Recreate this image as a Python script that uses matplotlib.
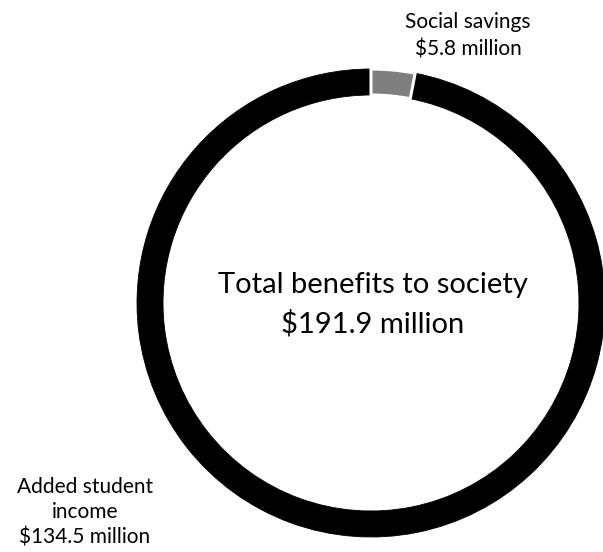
import matplotlib
matplotlib.use("Agg")
import matplotlib.pyplot as plt

# Data
total = 191.9
categories = ["Social savings", "Added student income"]
values = [5.8, 134.5]
other = total - sum(values)  # remaining benefits (drawn black, unlabeled)
label_lines_social = ["Social savings", "$5.8 million"]
label_lines_student = ["Added student", "income", "$134.5 million"]
center_lines = ["Total benefits to society", "$191.9 million"]

plt.rcParams['font.family'] = ['Lato', 'DejaVu Sans']

H = 552
fig = plt.figure(figsize=(6.03, 5.52), dpi=100)
ax = fig.add_axes([0, 0, 1, 1])

R = 234
cx, cy = 371, H - 303
wedges, _ = ax.pie(values + [other], colors=['#7f7f7f', 'black', 'black'],
                   startangle=90, counterclock=False, radius=R, center=(cx, cy),
                   wedgeprops=dict(width=26, linewidth=0.6, edgecolor='black'),
                   frame=True)
ax.set_xlim(0, 603)
ax.set_ylim(0, H)
ax.set_aspect('equal')
ax.axis('off')
wedges[0].set_edgecolor('white')
wedges[0].set_linewidth(2.2)
wedges[0].set_zorder(5)

for i, line in enumerate(center_lines):
    ax.text(373, H - (293 + 40 * i), line, ha='center', va='baseline',
            fontsize=21, color='black')
for i, line in enumerate(label_lines_social):
    ax.text(468, H - (28 + 27 * i), line, ha='center', va='baseline',
            fontsize=15, color='black')
for i, line in enumerate(label_lines_student):
    ax.text(85, H - (493 + 25 * i), line, ha='center', va='baseline',
            fontsize=15, color='black')

fig.savefig('out.png', dpi=100, facecolor='white')
